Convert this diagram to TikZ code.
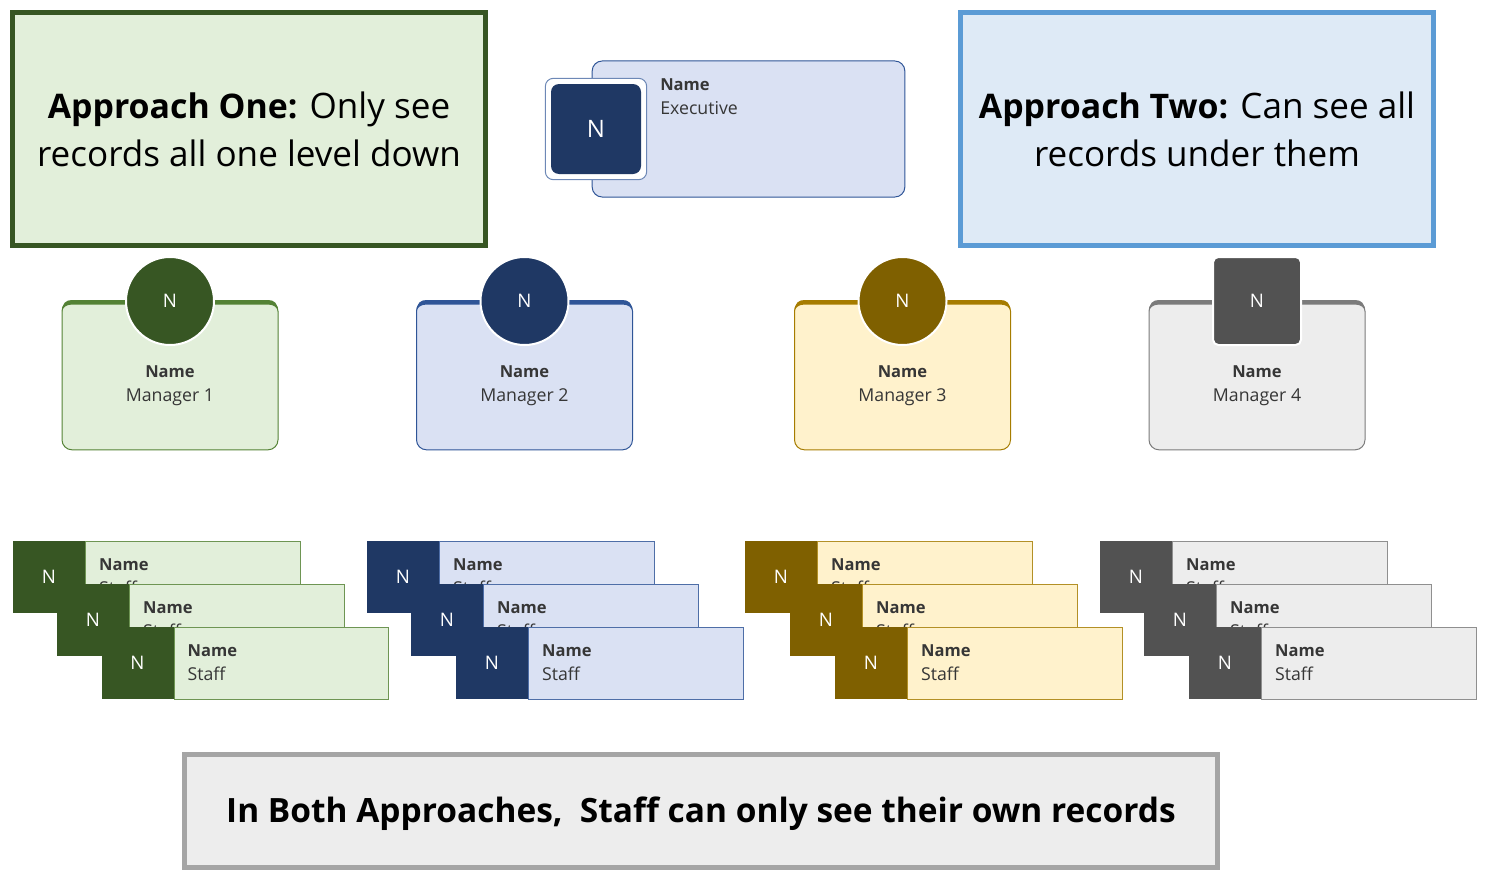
\documentclass[tikz,border=0pt]{standalone}
\usepackage{fontspec}
\setmainfont{Open Sans}
\usetikzlibrary{positioning}
\definecolor{greenfill}{HTML}{E2EFDA}
\definecolor{greendark}{HTML}{375623}
\definecolor{greenline}{HTML}{548235}
\definecolor{bluefill}{HTML}{DAE1F3}
\definecolor{bluedark}{HTML}{1F3864}
\definecolor{blueline}{HTML}{2F5597}
\definecolor{goldfill}{HTML}{FFF2CC}
\definecolor{golddark}{HTML}{7F6000}
\definecolor{goldline}{HTML}{A67C00}
\definecolor{grayfill}{HTML}{EDEDED}
\definecolor{graydark}{HTML}{525252}
\definecolor{grayline}{HTML}{7B7B7B}
\definecolor{cardtext}{HTML}{363636}
\definecolor{approachfill}{HTML}{DEEAF6}
\definecolor{approachblue}{HTML}{5B9BD5}
\definecolor{bothgray}{HTML}{A5A5A5}
\newcommand{\titlebold}[1]{{\fontsize{25.4}{36}\selectfont\bfseries #1}}
\newcommand{\cardname}{{\fontsize{12.4}{18}\selectfont\bfseries Name}}
\begin{document}
\begin{tikzpicture}[x=0.75pt, y=-0.75pt, align=center, inner sep=0pt]
\tikzstyle{titlebox}=[draw, line width=3.75pt, font=\fontsize{26.3}{36}\selectfont]
\tikzstyle{cardlabel}=[text=cardtext, font=\fontsize{13.3}{18}\selectfont]
\tikzstyle{initial}=[text=white, font=\fontsize{14}{16}\selectfont]
\useasboundingbox (0,0) rectangle (1487,881);

% approach boxes
\node[titlebox, draw=greendark, fill=greenfill, minimum width=355pt, minimum height=174pt] (one) at (249,129)
  {\titlebold{Approach One:} Only see\\records all one level down};
\node[titlebox, draw=approachblue, fill=approachfill, minimum width=355pt, minimum height=174pt] (two) at (1197,129)
  {\titlebold{Approach Two:} Can see all\\records under them};
\node[titlebox, draw=bothgray, fill=grayfill, minimum width=775pt, minimum height=85pt] (both) at (701,811) {};
\node[font=\fontsize{25.1}{30}\selectfont\bfseries] (bothtext) at (701,814)
  {In Both Approaches,\ \ Staff can only see their own records};

% executive
\node[draw=blueline, fill=bluefill, rounded corners=7.5pt, line width=0.75pt, minimum width=234.5pt, minimum height=102pt] (exec) at (748.5,129) {};
\node[draw=blueline!70!white, fill=white, rounded corners=6pt, line width=0.75pt, minimum size=76pt] (execframe) at (596,129) {};
\node[initial, fill=bluedark, rounded corners=6pt, minimum size=67.5pt, font=\fontsize{18}{20}\selectfont] (execpic) at (596,129) {N};
\node[cardlabel, anchor=north west, align=left] (exectext) at (660,78) {\cardname\\Executive};

\foreach \c/\fillc/\darkc/\linec/\shp/\xa/\xb/\xd/\i in {
  170/greenfill/greendark/greenline/circle/13/57/101.5/1,
  524.5/bluefill/bluedark/blueline/circle/367/411/456/2,
  902.5/goldfill/golddark/goldline/circle/745/790/835/3,
  1257/grayfill/graydark/grayline/rectangle/1100/1144/1189/4} {
  % manager card
  \node[draw=\linec, fill=\fillc, rounded corners=7.5pt, line width=0.75pt, minimum width=162pt, minimum height=111.5pt] (mgr\i) at (\c,375.5) {};
  \fill[\linec] (\c-108,312) .. controls (\c-108,303) and (\c-104,300) .. (\c-98,300) -- (\c+98,300)
    .. controls (\c+104,300) and (\c+108,303) .. (\c+108,312)
    .. controls (\c+108,308) and (\c+104,304.5) .. (\c+98,304.5) -- (\c-98,304.5)
    .. controls (\c-104,304.5) and (\c-108,308) .. cycle;
  \node[initial, shape=\shp, fill=\darkc, draw=white, line width=1.5pt, rounded corners=4pt, minimum size=66pt] (mgrpic\i) at (\c,301) {N};
  \node[cardlabel] (mgrtext\i) at (\c,386) {\cardname\\Manager \i};
  % staff cards
  \foreach \sx/\sy/\k in {\xa/541/1, \xb/584/2, \xd/627/3} {
    \node[initial, fill=\darkc, minimum size=54pt] (staffpic\i\k) at (\sx+36,\sy+36) {N};
    \node[cardlabel, draw=\linec!85!white, fill=\fillc, line width=0.75pt, align=left, text width=141pt, inner xsep=10pt, minimum height=54pt, right=0pt of staffpic\i\k] (staff\i\k) {\cardname\\Staff};
  }
}
\end{tikzpicture}
\end{document}
